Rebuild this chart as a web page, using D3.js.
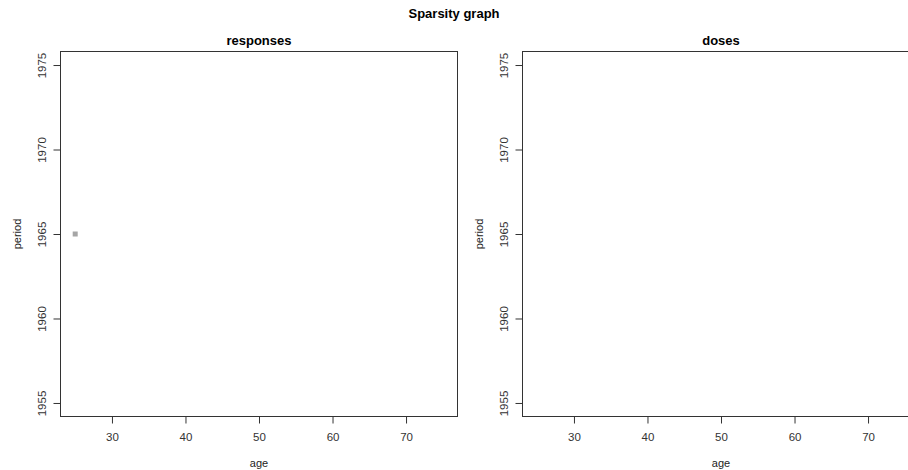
<!DOCTYPE html>
<html><head><meta charset="utf-8">
<script src="https://cdn.jsdelivr.net/npm/d3@7"></script>
<style>body{margin:0;background:#fff}svg{display:block;font-family:"Liberation Sans",Arial,sans-serif}</style>
</head><body>
<script>
const panelTitles = ["responses", "doses"];
const xTicks = [30, 40, 50, 60, 70];
const yTicks = [1955, 1960, 1965, 1970, 1975];
const responseAges = [25];
const responsePeriods = [1965];
const doseAges = [];
const dosePeriods = [];

(function () {
const W = 908, H = 470;
const svg = d3.select("body").append("svg").attr("width", W).attr("height", H);
svg.append("text").attr("x", 454).attr("y", 18).attr("text-anchor", "middle")
  .attr("font-weight", "bold").attr("font-size", 13).text("Sparsity graph");

const panels = [
  {left: 60.5, title: panelTitles[0], ages: responseAges, periods: responsePeriods},
  {left: 522.5, title: panelTitles[1], ages: doseAges, periods: dosePeriods}
];
const pw = 397, plotTop = 51.5, plotBottom = 416.5;

panels.forEach(p => {
  const x = d3.scaleLinear().domain([23, 77]).range([p.left, p.left + pw]);
  const y = d3.scaleLinear().domain([1954.2, 1975.8]).range([plotBottom, plotTop]);
  const g = svg.append("g");
  g.selectAll("rect.pt").data(p.ages.map((a, i) => [a, p.periods[i]])).enter().append("rect")
    .attr("x", d => x(d[0]) - 2.5).attr("y", d => y(d[1]) - 2.5)
    .attr("width", 5).attr("height", 5).attr("fill", "#a6a6a6");
  g.append("rect").attr("x", p.left).attr("y", plotTop).attr("width", pw).attr("height", plotBottom - plotTop)
    .attr("fill", "none").attr("stroke", "#333").attr("stroke-width", 1);
  const xa = g.append("g").attr("transform", `translate(0,${plotBottom})`)
    .call(d3.axisBottom(x).tickValues(xTicks).tickSize(7).tickPadding(9).tickFormat(d3.format("d")));
  xa.select(".domain").remove();
  xa.selectAll("line").attr("stroke", "#333");
  xa.selectAll("text").attr("font-size", 11.5).attr("fill", "#333").attr("font-family", "Liberation Sans, Arial, sans-serif");
  const ya = g.append("g").attr("transform", `translate(${p.left},0)`)
    .call(d3.axisLeft(y).tickValues(yTicks).tickSize(7).tickFormat(d3.format("d")));
  ya.select(".domain").remove();
  ya.selectAll("line").attr("stroke", "#333");
  ya.selectAll("text").attr("font-size", 11.5).attr("fill", "#333").attr("font-family", "Liberation Sans, Arial, sans-serif")
    .attr("x", null).attr("dy", null).attr("text-anchor", "middle")
    .attr("transform", "translate(-15,0) rotate(-90)");
  g.append("text").attr("x", p.left + pw / 2).attr("y", 45).attr("text-anchor", "middle")
    .attr("font-weight", "bold").attr("font-size", 13).text(p.title);
  g.append("text").attr("x", p.left + pw / 2).attr("y", 467).attr("text-anchor", "middle")
    .attr("font-size", 11).attr("fill", "#222").text("age");
  g.append("text").attr("transform", `translate(${p.left - 40},${(plotTop + plotBottom) / 2}) rotate(-90)`)
    .attr("text-anchor", "middle").attr("font-size", 11).attr("fill", "#222").text("period");
});
})();
</script>
</body></html>
